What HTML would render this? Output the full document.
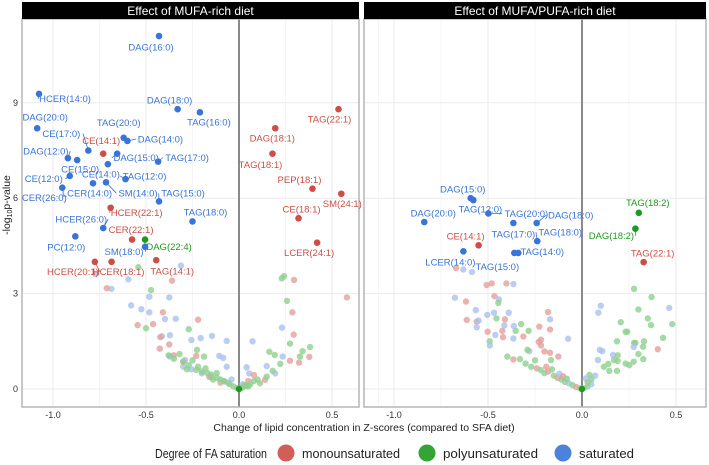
<!DOCTYPE html>
<html><head><meta charset="utf-8"><style>
body{margin:0;background:#fff;}
svg{font-family:"Liberation Sans",sans-serif;display:block;}
</style></head><body>
<svg id="c" width="709" height="465" viewBox="0 0 709 465"></svg>
<script>
// ---- data ----
const panelTitles = ["Effect of MUFA-rich diet", "Effect of MUFA/PUFA-rich diet"];
const xTicks = [-1.0, -0.5, 0.0, 0.5];
const xTickLabels = ["-1.0", "-0.5", "0.0", "0.5"];
const yTicks = [0, 3, 6, 9];
const yTickLabels = ["0", "3", "6", "9"];
const categories = ["monounsaturated", "polyunsaturated", "saturated"];
// labeled points: [name, x, y, category index]
const leftLabeled = [
["DAG(16:0)",-0.43,11.1,2],["HCER(14:0)",-1.075,9.28,2],["DAG(18:0)",-0.33,8.8,2],["TAG(16:0)",-0.21,8.7,2],
["DAG(20:0)",-1.085,8.2,2],["TAG(20:0)",-0.62,7.9,2],["DAG(14:0)",-0.60,7.8,2],["CE(17:0)",-0.81,7.5,2],
["CE(14:1)",-0.73,7.4,0],["DAG(15:0)",-0.655,7.4,2],["DAG(12:0)",-0.92,7.26,2],["CE(15:0)",-0.87,7.2,2],
["TAG(17:0)",-0.435,7.15,2],["CE(14:0)",-0.705,7.07,2],["CE(12:0)",-0.91,6.7,2],["TAG(12:0)",-0.61,6.6,2],
["LCER(14:0)",-0.785,6.47,2],["SM(14:0)",-0.715,6.5,2],["CER(26:0)",-0.95,6.33,2],["TAG(15:0)",-0.43,5.9,2],
["HCER(22:1)",-0.69,5.7,0],["TAG(18:0)",-0.25,5.27,2],["HCER(26:0)",-0.73,5.06,2],["TAG(22:1)",0.535,8.8,0],
["DAG(18:1)",0.195,8.2,0],["TAG(18:1)",0.18,7.4,0],["PEP(18:1)",0.395,6.3,0],["SM(24:1)",0.55,6.14,0],
["CE(18:1)",0.32,5.37,0],["PC(12:0)",-0.88,4.8,2],["CER(22:1)",-0.575,4.7,0],["DAG(22:4)",-0.505,4.7,1],
["SM(18:0)",-0.505,4.47,2],["HCER(20:1)",-0.775,4.0,0],["HCER(18:1)",-0.685,4.0,0],["TAG(14:1)",-0.445,4.05,0],
["LCER(24:1)",0.42,4.6,0]
];
const leftLabelOffsets = [[-8,11],[26,5],[-8,-9],[9,10],[8,-11],[-5,-15],[33,-2],[-27,-17],[-2,-13],[19,4],[-22,-7],[3,9],
[29,-4],[-7,10],[-26,3],[19,-3],[-6,10],[32,11],[-18,10],[24,-8],[26,5],[13,-9],[-22,-9],[-9,10],[-3,10],[-12,11],
[-13,-9],[1,10],[3,-9],[-9,11],[-1,-10],[24,7],[-21,5],[-22,10],[7,10],[16,11],[-8,10]];
const rightLabeled = [
["DAG(15:0)",-0.592,6.0,2],["TAG(12:0)",-0.578,5.94,2],["TAG(20:0)",-0.498,5.52,2],["TAG(17:0)",-0.365,5.22,2],
["DAG(18:0)",-0.241,5.22,2],["DAG(20:0)",-0.839,5.25,2],["TAG(18:0)",-0.238,4.65,2],["CE(14:1)",-0.55,4.52,0],
["LCER(14:0)",-0.631,4.33,2],["TAG(15:0)",-0.36,4.28,2],["TAG(14:0)",-0.339,4.28,2],["TAG(18:2)",0.302,5.54,1],
["DAG(18:2)",0.284,5.04,1],["TAG(22:1)",0.328,3.99,0]
];
const rightLabelOffsets = [[-8,-9],[7,9],[38,0],[0,11],[34,-8],[9,-9],[23,-9],[-13,-9],[-13,11],[-17,14],[24,-1],[9,-10],[-24,7],[9,-9]];
// faded (non-significant) points: [x, y, category]
const leftFaded = [
[-0.772,3.61,2],[-0.686,3.15,2],[-0.595,3.45,2],[-0.58,2.63,2],[-0.525,2.51,2],[-0.482,2.90,2],[-0.482,2.41,2],[-0.375,2.88,2],
[-0.398,2.20,2],[-0.34,2.21,2],[-0.312,3.88,2],[-0.414,1.66,2],[-0.371,1.69,2],[-0.256,1.54,2],[-0.206,1.60,2],[-0.145,1.67,2],
[-0.066,1.51,2],[0.073,1.50,2],[0.231,1.93,2],[-0.106,1.04,2],[-0.085,0.98,2],[0.041,0.68,2],[0.055,0.49,2],[0.149,0.72,2],
[0.235,1.02,2],[0.195,0.49,2],[-0.371,1.02,2],[-0.29,0.91,2],[-0.30,0.70,2],[-0.256,0.62,2],[-0.20,0.49,2],[-0.15,0.38,2],
[-0.08,0.24,2],[-0.066,0.70,2],[-0.04,0.3,2],[0.02,0.15,2],
[-0.711,3.17,0],[-0.36,3.41,0],[-0.409,2.41,0],[-0.545,2.01,0],[-0.462,2.04,0],[-0.22,2.18,0],[-0.423,1.63,0],[-0.426,1.27,0],
[-0.375,1.40,0],[-0.351,1.06,0],[0.296,3.43,0],[0.287,2.41,0],[0.294,1.71,0],[0.58,2.88,0],[0.378,1.01,0],[0.323,0.83,0],
[0.274,0.89,0],[-0.23,1.04,0],[-0.30,0.86,0],[-0.16,0.38,0],[0.08,0.44,0],[0.14,0.29,0],[-0.1,0.2,0],[0.05,0.25,0],
[-0.541,3.83,1],[-0.473,3.11,1],[-0.5,1.91,1],[-0.27,1.88,1],[-0.226,1.23,1],[-0.188,1.02,1],[-0.378,1.06,1],[0.242,3.55,1],
[0.23,3.48,1],[0.258,2.77,1],[0.274,1.43,1],[0.342,1.19,1],[0.382,1.32,1],[0.328,1.02,1],[0.163,1.17,1],[0.192,1.07,1],
[0.222,0.79,1],[0.113,0.18,1],[0.181,0.57,1],[0.149,0.39,1],
[-0.35,0.95,1],[-0.3,0.85,1],[-0.27,0.75,1],[-0.22,0.7,1],[-0.2,0.55,1],[-0.17,0.5,1],[-0.15,0.45,1],[-0.12,0.35,1],
[-0.1,0.3,1],[-0.08,0.25,1],[-0.05,0.15,1],[-0.03,0.08,1],[-0.01,0.03,1],[0.01,0.02,1],[0.02,0.05,1],[0.04,0.1,1],
[0.06,0.15,1],[0.08,0.25,1],[0.1,0.3,1],[-0.25,0.9,1],[-0.32,1.1,1],[-0.18,0.65,1],[-0.14,0.3,1],[-0.06,0.2,1],
[0.05,0.08,1],[0.03,0.12,1],[-0.23,0.6,1],[-0.28,0.62,1],[-0.12,0.5,1]
];
const rightFaded = [
[-0.67,3.80,0],[-0.631,3.76,2],[-0.585,3.68,2],[-0.507,3.27,0],[-0.48,3.32,0],[-0.402,3.32,0],[-0.365,3.30,2],[-0.676,2.87,2],
[-0.617,2.75,0],[-0.466,2.92,0],[-0.442,2.82,2],[-0.445,2.71,1],[-0.565,2.48,2],[-0.504,2.33,2],[-0.468,2.40,2],[-0.455,2.22,1],
[-0.39,2.40,2],[-0.613,2.17,0],[-0.56,2.12,0],[-0.55,2.15,2],[-0.56,1.94,2],[-0.502,1.80,0],[-0.461,1.70,2],[-0.424,1.83,0],
[-0.413,2.0,2],[-0.41,2.19,0],[-0.324,2.04,1],[-0.353,1.83,1],[-0.284,1.83,1],[-0.363,1.98,2],[-0.42,1.63,0],[-0.365,1.59,2],
[-0.312,1.65,0],[-0.181,2.42,0],[-0.17,2.19,2],[-0.227,1.96,0],[-0.17,1.87,0],[-0.218,1.55,0],[-0.074,1.58,2],[-0.491,1.50,1],
[-0.49,1.37,2],[-0.397,1.02,1],[-0.365,0.93,0],[-0.33,0.94,1],[-0.28,1.19,2],[-0.29,1.23,1],[-0.23,1.48,0],[-0.218,1.37,0],
[-0.2,1.18,0],[-0.17,1.14,0],[-0.165,0.91,1],[-0.126,1.02,0],
[0.1,2.62,2],[0.087,2.40,2],[0.464,2.55,2],[0.277,3.15,1],[0.37,2.89,1],[0.3,2.50,1],[0.35,2.22,1],[0.367,2.01,1],[0.48,2.04,1],
[0.206,2.10,1],[0.232,1.80,1],[0.241,1.80,1],[0.431,1.61,1],[0.277,1.45,1],[0.284,1.45,1],[0.33,1.50,1],[0.275,1.32,2],
[0.325,1.33,1],[0.403,1.25,0],[0.186,1.50,1],[0.165,1.07,2],[0.19,1.06,1],[0.326,0.94,1],[0.3,1.10,1],[0.275,0.86,1],
[0.232,0.80,1],[0.252,0.75,1],[0.085,0.91,2],[0.108,1.19,2],[0.095,1.23,2],[0.14,0.79,1],[0.145,0.57,1],[0.186,0.57,1],
[0.17,0.91,1],[0.19,0.88,1],[0.116,0.70,1],[0.07,0.42,2],[0.05,0.30,1],[0.04,0.44,1],[0.02,0.33,2],
[-0.3,0.8,1],[-0.27,0.7,1],[-0.24,0.65,0],[-0.22,0.6,1],[-0.2,0.5,1],[-0.18,0.55,0],[-0.15,0.42,1],[-0.13,0.35,0],
[-0.11,0.3,1],[-0.09,0.22,1],[-0.07,0.18,2],[-0.05,0.12,1],[-0.03,0.06,0],[-0.01,0.02,1],[0.01,0.03,2],[0.03,0.08,1],
[-0.25,0.9,1],[-0.19,0.7,0],[-0.16,0.62,1],[-0.12,0.48,2],[-0.1,0.4,0],[-0.08,0.32,1],[0.05,0.15,2],[0.03,0.2,1]
];
// ---- rendering ----
const colors = ["#cc4e47", "#1e9a1e", "#3a74d6"];
const fadedColors = ["#e3a09b", "#8fcf8f", "#a9c2ef"];
const NS = "http://www.w3.org/2000/svg";
const svg = document.getElementById("c");
function mk(tag, attrs, parent) {
  const e = document.createElementNS(NS, tag);
  for (const k in attrs) e.setAttribute(k, attrs[k]);
  (parent || svg).appendChild(e);
  return e;
}
const panels = [
  {x0: 22, x1: 359, zero: 239, scale: 186, labeled: leftLabeled, offs: leftLabelOffsets, faded: leftFaded},
  {x0: 364, x1: 706, zero: 582, scale: 188, labeled: rightLabeled, offs: rightLabelOffsets, faded: rightFaded}
];
const yTop = 19, yBot = 407;
function yS(v) { return 389 - 31.8 * v; }

panels.forEach((p, pi) => {
  const xS = v => p.zero + p.scale * v;
  const g = mk("g", {});
  
  
  xTicks.forEach((t, i) => {
    const gl = mk("line", {x1: xS(t), x2: xS(t), y1: yTop, y2: yBot, stroke: "#ebebeb", "stroke-width": 1}, g);
    
    
    const m = mk("line", {x1: xS(t + 0.25), x2: xS(t + 0.25), y1: yTop, y2: yBot, stroke: "#f5f5f5", "stroke-width": 1}, g);
    
    
    const tl = mk("text", {x: xS(t), y: 418, "font-size": 9, fill: "#333", "text-anchor": "middle"}, g);
    tl.textContent = xTickLabels[i];
    
    
  });
  yTicks.forEach((t, i) => {
    const gl = mk("line", {x1: p.x0, x2: p.x1, y1: yS(t), y2: yS(t), stroke: "#ebebeb", "stroke-width": 1}, g);
    
    
    if (pi === 0) {
      const tl = mk("text", {x: 18, y: yS(t) + 3, "font-size": 9, fill: "#333", "text-anchor": "end"}, g);
      tl.textContent = yTickLabels[i];
      
      
    }
  });
  const zl = mk("line", {x1: xS(0), x2: xS(0), y1: yTop, y2: yBot, stroke: "#8a8a8a", "stroke-width": 2}, g);
  
  
  const br = mk("rect", {x: p.x0, y: yTop, width: p.x1 - p.x0, height: yBot - yTop, fill: "none", stroke: "#b5b5b5", "stroke-width": 1.5}, g);
  
  
  const st = mk("rect", {x: p.x0, y: 2, width: p.x1 - p.x0, height: 17, fill: "#000"}, g);
  
  
  const stt = mk("text", {x: (p.x0 + p.x1) / 2, y: 15, "font-size": 12, fill: "#fff", "text-anchor": "middle"}, g);
  stt.textContent = panelTitles[pi];
  
  
  p.faded.forEach(d => {
    const c = mk("circle", {cx: xS(d[0]), cy: yS(d[1]), r: 3.2, fill: fadedColors[d[2]], "fill-opacity": 0.8}, g);
    
    
  });
  const o = mk("circle", {cx: xS(0), cy: yS(0), r: 3.2, fill: "#1e9a1e"}, g);
  
  
  p.labeled.forEach((d, i) => {
    const px = xS(d[1]), py = yS(d[2]);
    const off = p.offs[i];
    const lx = px + off[0], ly = py + off[1];
    const hw = d[0].length * 2.7;
    if (Math.abs(off[0]) > 18) {
      const ex = lx - Math.sign(off[0]) * hw;
      const ln = mk("line", {x1: px, y1: py, x2: ex, y2: ly, stroke: colors[d[3]], "stroke-width": 0.8}, g);
      
      
    }
    const c = mk("circle", {cx: px, cy: py, r: 3.3, fill: colors[d[3]]}, g);
    
    
    const t = mk("text", {x: lx, y: ly + 3.3, "font-size": 9.5, fill: colors[d[3]], "text-anchor": "middle"}, g);
    t.textContent = d[0];
    
    
  });
});
const xt = mk("text", {x: 364, y: 431, "font-size": 10.5, fill: "#222", "text-anchor": "middle"});
xt.textContent = "Change of lipid concentration in Z-scores (compared to SFA diet)";


const yt = mk("text", {x: 0, y: 0, "font-size": 10.5, fill: "#222", "text-anchor": "middle", transform: "translate(10,205) rotate(-90)"});
yt.innerHTML = '-log<tspan font-size="7" dy="2">10</tspan><tspan dy="-2">p-value</tspan>';


const lg = mk("g", {});


const ltt = mk("text", {x: 155, y: 458, "font-size": 12.5, fill: "#222", textLength: 112, lengthAdjust: "spacingAndGlyphs"}, lg);
ltt.textContent = "Degree of FA saturation";


const legX = [286, 427, 563];
const legW = [98, 95, 55];
categories.forEach((cat, i) => {
  const c = mk("circle", {cx: legX[i], cy: 453, r: 8.5, fill: colors[i], "fill-opacity": 0.9}, lg);
  
  
  const t = mk("text", {x: legX[i] + 16, y: 458, "font-size": 12.5, fill: "#222", textLength: legW[i], lengthAdjust: "spacingAndGlyphs"}, lg);
  t.textContent = cat;
  
  
});
</script>
</body></html>
